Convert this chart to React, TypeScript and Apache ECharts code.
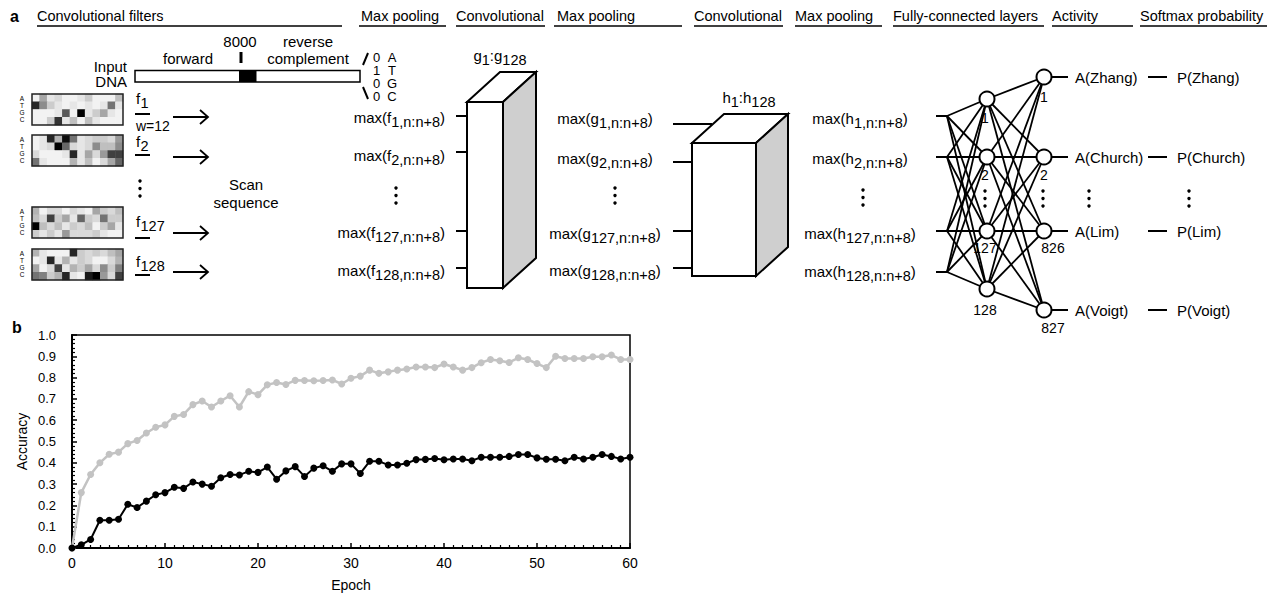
import React, { useEffect, useRef } from 'react';
import * as echarts from 'echarts';

// ---------- Panel b data (accuracy per epoch, epoch = index 0..60) ----------
const trainingAccuracy = [
  0, 0.26, 0.345, 0.4, 0.44, 0.45, 0.49, 0.505, 0.54, 0.567, 0.578,
  0.618, 0.627, 0.673, 0.69, 0.662, 0.69, 0.715, 0.662, 0.734, 0.72,
  0.766, 0.777, 0.768, 0.787, 0.786, 0.785, 0.786, 0.789, 0.77, 0.797,
  0.807, 0.835, 0.82, 0.827, 0.835, 0.84, 0.85, 0.85, 0.847, 0.864,
  0.85, 0.835, 0.847, 0.87, 0.885, 0.879, 0.871, 0.893, 0.885, 0.866,
  0.847, 0.9, 0.89, 0.89, 0.89, 0.898, 0.898, 0.906, 0.885, 0.885,
];
const testAccuracy = [
  0, 0.015, 0.04, 0.13, 0.13, 0.135, 0.205, 0.19, 0.22, 0.25, 0.26,
  0.285, 0.28, 0.31, 0.3, 0.29, 0.33, 0.345, 0.343, 0.36, 0.355,
  0.38, 0.323, 0.362, 0.382, 0.336, 0.375, 0.386, 0.36, 0.395, 0.395,
  0.35, 0.407, 0.407, 0.39, 0.39, 0.398, 0.415, 0.416, 0.42, 0.414,
  0.418, 0.418, 0.41, 0.426, 0.426, 0.426, 0.43, 0.439, 0.439, 0.423,
  0.417, 0.417, 0.41, 0.426, 0.418, 0.426, 0.439, 0.43, 0.418, 0.426,
];

// ---------- Panel a data: filter weights (rows A,T,G,C x 12 positions) ----------
const bases = ['A', 'T', 'G', 'C'];
const positions = ['1', '2', '3', '4', '5', '6', '7', '8', '9', '10', '11', '12'];
const filterF1 = [
  [0.05, 0.35, 0.1, 0.15, 0.05, 0.05, 0.1, 0.2, 0.05, 0.05, 0.05, 0.25],
  [0.85, 0.45, 0.2, 0.1, 0.05, 0.1, 0.05, 0.1, 0.05, 0.1, 0.55, 0.1],
  [0.05, 0.05, 0.05, 0.1, 0.65, 0.05, 1.0, 0.1, 0.2, 0.35, 0.1, 0.05],
  [0.05, 0.05, 0.2, 0.8, 0.1, 0.25, 0.05, 0.25, 0.1, 0.05, 0.05, 0.05],
];
const filterF2 = [
  [0.05, 0.1, 0.85, 0.3, 0.95, 0.55, 0.1, 0.15, 0.2, 0.2, 0.15, 0.4],
  [0.05, 0.1, 0.15, 1.0, 0.6, 0.15, 0.1, 0.15, 0.45, 0.25, 0.25, 0.45],
  [0.15, 0.05, 0.05, 0.05, 0.1, 0.85, 0.1, 0.35, 0.15, 0.4, 0.75, 0.75],
  [0.55, 0.1, 0.05, 0.05, 0.05, 0.3, 0.1, 0.25, 0.05, 0.15, 0.35, 0.6],
];
const filterF127 = [
  [0.3, 0.05, 0.15, 0.15, 0.05, 0.15, 0.1, 0.05, 0.35, 0.2, 0.15, 0.25],
  [0.25, 0.15, 0.75, 0.2, 0.35, 0.1, 0.6, 0.2, 0.15, 0.55, 0.2, 0.2],
  [1.0, 0.25, 0.15, 0.25, 0.1, 0.2, 0.15, 0.25, 0.05, 0.2, 0.35, 0.1],
  [0.2, 0.1, 0.2, 0.1, 0.4, 0.15, 0.15, 0.15, 0.2, 0.1, 0.05, 0.05],
];
const filterF128 = [
  [0.3, 0.1, 0.05, 0.05, 0.05, 0.85, 0.2, 0.15, 0.2, 0.15, 0.25, 0.35],
  [0.05, 0.1, 0.85, 0.1, 0.3, 0.1, 0.2, 0.15, 0.05, 0.05, 0.15, 0.3],
  [0.35, 0.05, 0.15, 0.75, 0.1, 0.3, 0.2, 0.35, 0.15, 0.45, 0.2, 0.5],
  [0.55, 0.5, 0.2, 0.3, 0.85, 0.1, 0.05, 0.9, 1.0, 0.4, 0.15, 0.75],
];
const filters = [filterF1, filterF2, filterF127, filterF128];
const filterIds = ['1', '2', '127', '128'];
const oneHotBits = ['0', '1', '0', '0'];
const headers = [
  'Convolutional filters', 'Max pooling', 'Convolutional', 'Max pooling',
  'Convolutional', 'Max pooling', 'Fully-connected layers', 'Activity', 'Softmax probability',
];
const labs = ['Zhang', 'Church', 'Lim', 'Voigt'];
const layer1Labels = ['1', '2', '127', '128'];
const layer2Labels = ['1', '2', '826', '827'];

// ---------- layout ----------
const FONT = '"Liberation Sans", Arial, Helvetica, sans-serif';
const FS = 15;
const HM_LEFT = 32;
const HM_WIDTH = 91;
const HM_HEIGHT = 31;
const HM_TOPS = [94, 135, 207, 249];
const headerLayout = [
  [37, 37, 342], [361, 359, 446], [456, 456, 545], [557, 554, 682],
  [694, 694, 783], [795, 795, 882], [893, 893, 1044], [1052, 1052, 1133], [1140, 1140, 1267],
];

const RICH = {
  m: { fontSize: FS, fontFamily: FONT, fill: '#000', verticalAlign: 'middle' },
  s: { fontSize: 14.5, fontFamily: FONT, fill: '#000', padding: [9, 0, 0, 0], verticalAlign: 'middle' },
};
const sub = (...parts: string[]) =>
  parts.map((p, i) => (p ? `{${i % 2 ? 's' : 'm'}|${p}}` : '')).join('');

function T(text: string, x: number, y: number, o: any = {}) {
  const style: any = {
    text, x, y, fill: '#000',
    fontSize: o.size ?? FS, fontFamily: FONT,
    fontWeight: o.bold ? 'bold' : 'normal',
    align: o.align ?? 'left', verticalAlign: 'middle',
  };
  if (o.lh) style.lineHeight = o.lh;
  if (o.rich) style.rich = RICH;
  return { type: 'text', z: 100, silent: true, style };
}
function L(x1: number, y1: number, x2: number, y2: number, w = 2) {
  return { type: 'line', z: 100, silent: true, shape: { x1, y1, x2, y2 }, style: { stroke: '#000', lineWidth: w } };
}
function dots(x: number, y: number) {
  return [0, 1, 2].map((i) => ({
    type: 'circle', z: 100, silent: true, shape: { cx: x, cy: y + i * 7.5, r: 1.7 }, style: { fill: '#000' },
  }));
}
function arrow(x1: number, x2: number, y: number) {
  return [
    L(x1, y, x2, y, 1.8),
    { type: 'polyline', z: 100, silent: true, shape: { points: [[x2 - 8, y - 7], [x2, y], [x2 - 8, y + 7]] }, style: { stroke: '#000', fill: 'none', lineWidth: 1.8 } },
  ];
}
function cube(x: number, y: number, w: number, h: number, dx: number, dy: number) {
  const st = (fill: string) => ({ fill, stroke: '#000', lineWidth: 2, lineJoin: 'miter' });
  return [
    { type: 'polygon', z: 100, silent: true, shape: { points: [[x, y], [x + w, y], [x + w + dx, y + dy], [x + dx, y + dy]] }, style: st('#fff') },
    { type: 'polygon', z: 100, silent: true, shape: { points: [[x + w, y], [x + w + dx, y + dy], [x + w + dx, y + h + dy], [x + w, y + h]] }, style: st('#cfcfcf') },
    { type: 'rect', z: 100, silent: true, shape: { x, y, width: w, height: h }, style: st('#fff') },
  ];
}

function buildGraphic() {
  const g: any[] = [];
  // panel letters
  g.push(T('a', 10, 16, { bold: true, size: 16 }));
  g.push(T('b', 12, 327, { bold: true, size: 16 }));
  // headers
  headers.forEach((h, i) => {
    const [tx, lx1, lx2] = headerLayout[i];
    g.push(T(h, tx, 16, { size: 14.5 }));
    g.push(L(lx1, 26, lx2, 26, 1.5));
  });
  // input DNA
  g.push(T('Input\nDNA', 127, 73.5, { align: 'right', lh: 15 }));
  g.push({ type: 'rect', z: 100, silent: true, shape: { x: 135, y: 70.5, width: 225, height: 11.5 }, style: { fill: '#fff', stroke: '#000', lineWidth: 1.5 } });
  g.push({ type: 'rect', z: 100, silent: true, shape: { x: 239, y: 70.5, width: 17.5, height: 11.5 }, style: { fill: '#000' } });
  g.push(T('forward', 188, 58, { align: 'center' }));
  g.push(T('8000', 240, 41, { align: 'center' }));
  g.push(L(241, 52, 241, 63, 3));
  g.push(T('reverse\ncomplement', 308, 49.5, { align: 'center', lh: 17 }));
  g.push(L(363, 65, 368, 53, 2));
  g.push(L(363, 87, 368, 99, 2));
  g.push(T(oneHotBits.join('\n'), 376.5, 77, { align: 'center', size: 13, lh: 13.3 }));
  g.push(T(bases.join('\n'), 392, 77, { align: 'center', size: 13, lh: 13.3 }));
  // heatmap frames + base letters
  HM_TOPS.forEach((top) => {
    g.push({ type: 'rect', z: 100, silent: true, shape: { x: HM_LEFT, y: top, width: HM_WIDTH, height: HM_HEIGHT }, style: { fill: 'none', stroke: '#222', lineWidth: 1.5 } });
    g.push(T(bases.join('\n'), 22, top + 14.5, { align: 'center', size: 6.5, lh: 7 }));
  });
  // filter labels
  const fMainY = [98, 141, 221, 261];
  const fUnderY = [114, 155, 238, 275];
  const fArrowY = [117, 157, 233, 272];
  filterIds.forEach((id, i) => {
    g.push(T('f', 136, fMainY[i]));
    g.push(T(id, 140.5, fMainY[i] + 5, { size: 14.5 }));
    g.push(L(135, fUnderY[i], 150, fUnderY[i], 2));
    g.push(...arrow(173, 208, fArrowY[i]));
  });
  g.push(T('w=12', 136, 125.5, { size: 14 }));
  g.push(...dots(140, 181));
  g.push(T('Scan\nsequence', 246, 193, { align: 'center', lh: 18 }));

  // column 1: max pooling f
  const c1Line = [116, 152, 231, 268];
  const c1Text = [117, 155, 232, 270];
  filterIds.forEach((id, i) => {
    g.push(T(sub('max(f', `${id},n:n+8`, ')'), 445, c1Text[i], { rich: true, align: 'right' }));
    g.push(L(456, c1Line[i], 467, c1Line[i], 2));
  });
  g.push(...dots(396, 188));
  g.push(...cube(467, 102, 36, 186, 33, -30));
  g.push(T(sub('g', '1', ':g', '128'), 500, 55, { rich: true, align: 'center' }));

  // column 2: max pooling g
  const c2Line = [124, 162, 231, 268];
  const c2Text = [118, 158, 233, 270];
  filterIds.forEach((id, i) => {
    g.push(T(sub('max(g', `${id},n:n+8`, ')'), 605, c2Text[i], { rich: true, align: 'center' }));
    g.push(L(673, c2Line[i], i === 0 ? 712 : 692, c2Line[i], 2));
  });
  g.push(...dots(615, 188));
  g.push(...cube(692, 143, 64, 133, 32, -29));
  g.push(T(sub('h', '1', ':h', '128'), 749, 97, { rich: true, align: 'center' }));

  // column 3: max pooling h
  const c3Text = [118, 158, 233, 271];
  filterIds.forEach((id, i) => {
    g.push(T(sub('max(h', `${id},n:n+8`, ')'), 860, c3Text[i], { rich: true, align: 'center' }));
  });
  g.push(...dots(863, 190));

  // network
  const inY = [116, 157, 231, 272];
  const l1X = 987, l2X = 1044, jx = 947;
  const l1Y = [99, 157, 231, 289];
  const l2Y = [77, 157, 231, 310];
  inY.forEach((y) => {
    g.push(L(936, y, jx, y, 2));
    l1Y.forEach((y1) => g.push(L(jx, y, l1X, y1, 1.8)));
  });
  l1Y.forEach((y1) => l2Y.forEach((y2) => g.push(L(l1X, y1, l2X, y2, 1.8))));
  l2Y.forEach((y) => g.push(L(l2X, y, 1068, y, 2)));
  [...l1Y.map((y) => [l1X, y]), ...l2Y.map((y) => [l2X, y])].forEach(([cx, cy]) =>
    g.push({ type: 'circle', z: 101, silent: true, shape: { cx, cy, r: 7.5 }, style: { fill: '#fff', stroke: '#000', lineWidth: 2 } })
  );
  const l1LabY = [118, 175, 248, 310];
  const l2LabPos = [[1044, 97], [1044, 175], [1053, 248], [1053, 328]];
  layer1Labels.forEach((t, i) => g.push(T(t, 985, l1LabY[i], { align: 'center', size: 14 })));
  layer2Labels.forEach((t, i) => g.push(T(t, l2LabPos[i][0], l2LabPos[i][1], { align: 'center', size: 14 })));
  g.push(...dots(985, 191));
  g.push(...dots(1043, 191));

  // activity & softmax
  labs.forEach((lab, i) => {
    const y = l2Y[i];
    g.push(T(`A(${lab})`, 1075, y));
    g.push(L(1148, y, 1167, y, 2));
    g.push(T(`P(${lab})`, 1177, y));
  });
  g.push(...dots(1089, 191));
  g.push(...dots(1189, 191));
  return g;
}

export default function App() {
  const ref = useRef<HTMLDivElement>(null);
  useEffect(() => {
    document.body.style.margin = '0';
    const chart = echarts.init(ref.current!, undefined, { renderer: 'svg' });
    const axisText = { color: '#000', fontSize: 13, fontFamily: FONT };
    const nameText = { color: '#000', fontSize: 14, fontFamily: FONT };
    const heatmapGrids = HM_TOPS.map((top) => ({
      left: HM_LEFT, top, width: HM_WIDTH, height: HM_HEIGHT, outerBoundsMode: 'none',
    }));
    const heatmapX = HM_TOPS.map((_, i) => ({ gridIndex: i + 1, type: 'category', data: positions, show: false }));
    const heatmapY = HM_TOPS.map((_, i) => ({ gridIndex: i + 1, type: 'category', data: bases, inverse: true, show: false }));
    const heatmapSeries = filters.map((f, i) => ({
      type: 'heatmap',
      xAxisIndex: i + 1,
      yAxisIndex: i + 1,
      silent: true,
      data: f.flatMap((row, r) => row.map((v, c) => [c, r, v])),
    }));
    const option: any = {
      animation: false,
      backgroundColor: '#fff',
      grid: [
        { left: 72, top: 335, width: 558, height: 213, show: true, borderColor: '#000', borderWidth: 1.5, backgroundColor: 'transparent', outerBoundsMode: 'none' },
        ...heatmapGrids,
      ],
      xAxis: [
        {
          gridIndex: 0, type: 'value', min: 0, max: 60, interval: 10,
          axisLine: { show: true, onZero: false, lineStyle: { color: '#000', width: 2 } },
          axisTick: { show: true, inside: true, length: 5, lineStyle: { color: '#000', width: 1.5 } },
          minorTick: { show: true, splitNumber: 10, length: 3, lineStyle: { color: '#000', width: 1.2 } },
          splitLine: { show: false },
          axisLabel: { ...axisText, fontSize: 14, margin: 8 },
          name: 'Epoch', nameLocation: 'middle', nameGap: 30, nameTextStyle: nameText,
        },
        ...heatmapX,
      ],
      yAxis: [
        {
          gridIndex: 0, type: 'value', min: 0, max: 1, interval: 0.1,
          axisLine: { show: true, onZero: false, lineStyle: { color: '#000', width: 2 } },
          axisTick: { show: true, inside: true, length: 5, lineStyle: { color: '#000', width: 1.5 } },
          minorTick: { show: true, splitNumber: 5, length: 3, lineStyle: { color: '#000', width: 1.2 } },
          splitLine: { show: false },
          axisLabel: { ...axisText, margin: 16, formatter: (v: number) => v.toFixed(1) },
          name: 'Accuracy', nameLocation: 'middle', nameGap: 43, nameRotate: 90, nameTextStyle: nameText,
        },
        ...heatmapY,
      ],
      visualMap: {
        type: 'continuous', show: false, seriesIndex: [2, 3, 4, 5], min: 0, max: 1,
        inRange: { color: ['#ffffff', '#000000'] },
      },
      series: [
        {
          type: 'line', xAxisIndex: 0, yAxisIndex: 0, z: 3,
          data: trainingAccuracy.map((v, i) => [i, v]),
          symbol: 'circle', symbolSize: 7, showSymbol: true, showAllSymbol: true,
          lineStyle: { color: '#c3c3c3', width: 2.5 }, itemStyle: { color: '#c3c3c3' },
        },
        {
          type: 'line', xAxisIndex: 0, yAxisIndex: 0, z: 4,
          data: testAccuracy.map((v, i) => [i, v]),
          symbol: 'circle', symbolSize: 7, showSymbol: true, showAllSymbol: true,
          lineStyle: { color: '#000', width: 2 }, itemStyle: { color: '#000' },
        },
        ...heatmapSeries,
      ],
      graphic: buildGraphic(),
    };
    chart.setOption(option);
    return () => chart.dispose();
  }, []);
  return <div ref={ref} style={{ width: 1277, height: 596 }} />;
}
